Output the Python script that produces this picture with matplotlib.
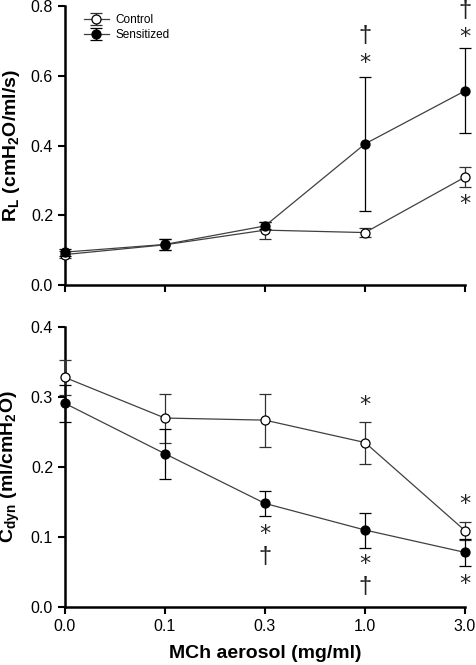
import matplotlib
matplotlib.use("Agg")
import matplotlib.pyplot as plt

plt.rcParams['font.family'] = ['Liberation Sans', 'DejaVu Sans']
plt.rcParams['mathtext.fontset'] = 'custom'
plt.rcParams['mathtext.rm'] = 'Liberation Sans:bold'
plt.rcParams['mathtext.bf'] = 'Liberation Sans:bold'
plt.rcParams['mathtext.it'] = 'Liberation Sans:bold'

doses = ["0.0", "0.1", "0.3", "1.0", "3.0"]

rl_control = [0.088, 0.116, 0.158, 0.151, 0.310]
rl_control_err = [0.010, 0.016, 0.024, 0.014, 0.029]
rl_sens = [0.095, 0.117, 0.170, 0.405, 0.557]
rl_sens_err = [0.010, 0.016, 0.010, 0.193, 0.122]

cd_control = [0.328, 0.270, 0.267, 0.235, 0.109]
cd_control_err = [0.025, 0.035, 0.038, 0.030, 0.013]
cd_sens = [0.291, 0.219, 0.148, 0.110, 0.078]
cd_sens_err = [0.026, 0.036, 0.018, 0.025, 0.019]

# annotations: (x index, y value, text); asterisks centred, daggers by their top
rl_marks = [(3, 0.745, "†"), (3, 0.636, "*"), (4, 0.818, "†"), (4, 0.712, "*"), (4, 0.234, "*")]
cd_marks = [(2, 0.087, "†"), (2, 0.105, "*"), (3, 0.288, "*"), (3, 0.045, "†"), (3, 0.062, "*"),
            (4, 0.147, "*"), (4, 0.033, "*")]

fig = plt.figure(figsize=(4.77, 6.65), dpi=100)
ax1 = fig.add_axes([0.136, 0.571, 0.839, 0.420])
ax2 = fig.add_axes([0.136, 0.0872, 0.839, 0.421])

x = list(range(len(doses)))
line_c = '#404040'

def draw(ax, c, ce, s, se):
    ax.errorbar(x, c, yerr=ce, fmt='-o', color=line_c, lw=0.9, ms=6.5,
                mfc='white', mec='black', mew=0.9, ecolor='#303030', elinewidth=0.9,
                capsize=4.5, capthick=0.9, clip_on=False, zorder=3, label='Control')
    ax.errorbar(x, s, yerr=se, fmt='-o', color=line_c, lw=0.9, ms=6.5,
                mfc='black', mec='black', mew=0.9, ecolor='black', elinewidth=0.9,
                capsize=4.5, capthick=0.9, clip_on=False, zorder=4, label='Sensitized')
    ax.set_xlim(0, 4)
    ax.set_xticks(x)
    for sp in ['top', 'right']:
        ax.spines[sp].set_visible(False)
    for sp in ['left', 'bottom']:
        ax.spines[sp].set_linewidth(1.8)
    ax.tick_params(axis='both', direction='out', width=1.5, length=5, labelsize=11.5)

draw(ax1, rl_control, rl_control_err, rl_sens, rl_sens_err)
ax1.set_ylim(0, 0.8)
ax1.set_yticks([0.0, 0.2, 0.4, 0.6, 0.8])
ax1.set_yticklabels(["0.0", "0.2", "0.4", "0.6", "0.8"])
ax1.set_xticklabels([])
ax1.set_ylabel(r'$\mathbf{R_L\ (cmH_2O/ml/s)}$', fontsize=14, labelpad=6)
leg = ax1.legend(loc='upper left', bbox_to_anchor=(0.02, 1.01), frameon=False, fontsize=8.5,
                 handlelength=2.2, handletextpad=0.5, labelspacing=0.3)

draw(ax2, cd_control, cd_control_err, cd_sens, cd_sens_err)
ax2.set_ylim(0, 0.4)
ax2.set_yticks([0.0, 0.1, 0.2, 0.3, 0.4])
ax2.set_yticklabels(["0.0", "0.1", "0.2", "0.3", "0.4"])
ax2.set_xticklabels(doses)
ax2.set_ylabel(r'$\mathbf{C_{dyn}\ (ml/cmH_2O)}$', fontsize=14, labelpad=6)
ax2.set_xlabel('MCh aerosol (mg/ml)', fontsize=14, fontweight='bold', labelpad=8)

for ax, marks in [(ax1, rl_marks), (ax2, cd_marks)]:
    for xi, yv, t in marks:
        if t == "*":
            ax.text(xi, yv, "*", ha='center', va='center', fontsize=16, color='#222222',
                    family=['DejaVu Sans'])
        else:
            ax.text(xi, yv, "†", ha='center', va='top', fontsize=17, color='#222222',
                    family=['Liberation Sans', 'DejaVu Sans'])

fig.savefig('out.png', dpi=100)
